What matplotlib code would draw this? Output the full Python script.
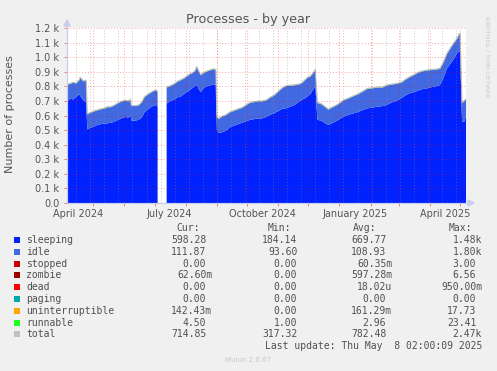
import matplotlib
matplotlib.use("Agg")
import matplotlib.pyplot as plt
from matplotlib.patches import Polygon, Rectangle
from matplotlib.lines import Line2D
import numpy as np
import pandas as pd
from datetime import datetime

W, H = 497, 371

# sample dates (None in the value lists = no data)
dates = [
    "2024-04-05", "2024-04-08", "2024-04-11", "2024-04-14", "2024-04-17", "2024-04-18", "2024-04-21", "2024-04-24",
    "2024-04-25", "2024-04-28", "2024-05-02", "2024-05-05", "2024-05-08", "2024-05-12", "2024-05-15", "2024-05-18",
    "2024-05-21", "2024-05-24", "2024-05-27", "2024-05-30", "2024-06-02", "2024-06-05", "2024-06-07", "2024-06-08",
    "2024-06-12", "2024-06-15", "2024-06-18", "2024-06-21", "2024-06-24", "2024-06-27", "2024-06-30", "2024-07-03",
    "2024-07-04",
    "2024-07-08",
    "2024-07-13", "2024-07-17", "2024-07-21", "2024-07-24", "2024-07-27", "2024-07-30", "2024-08-02", "2024-08-05",
    "2024-08-08", "2024-08-10", "2024-08-12", "2024-08-14", "2024-08-16", "2024-08-19", "2024-08-22", "2024-08-25",
    "2024-08-28", "2024-08-31",
    "2024-09-01", "2024-09-03", "2024-09-06", "2024-09-10", "2024-09-14", "2024-09-18", "2024-09-22", "2024-09-26",
    "2024-09-30", "2024-10-04", "2024-10-08", "2024-10-12", "2024-10-16", "2024-10-20", "2024-10-24", "2024-10-28",
    "2024-11-01", "2024-11-05", "2024-11-09", "2024-11-13", "2024-11-17", "2024-11-21", "2024-11-24", "2024-11-27",
    "2024-11-30", "2024-12-03", "2024-12-06", "2024-12-08",
    "2024-12-10", "2024-12-14", "2024-12-17", "2024-12-21", "2024-12-24", "2024-12-27", "2024-12-31",
    "2025-01-05", "2025-01-10", "2025-01-15", "2025-01-20", "2025-01-25", "2025-01-29", "2025-02-03", "2025-02-08",
    "2025-02-13", "2025-02-17", "2025-02-22", "2025-02-27", "2025-03-04", "2025-03-08", "2025-03-12", "2025-03-16",
    "2025-03-20", "2025-03-24", "2025-03-29", "2025-04-03", "2025-04-07", "2025-04-11", "2025-04-14", "2025-04-18",
    "2025-04-22", "2025-04-25", "2025-04-28", "2025-04-30", "2025-05-01", "2025-05-03", "2025-05-05", "2025-05-07",
]

sleeping = [
    699, 715, 710, 728, 745, 735, 705, 690,
    505, 515, 525, 535, 540, 545, 546, 550,
    555, 565, 575, 583, 590, 585, 600, 565,
    565, 570, 585, 622, 640, 655, 668, 672,
    660,
    None,
    682, 700, 710, 725, 730, 745, 760, 775,
    790, 800, 815, 780, 760, 790, 800, 805,
    815, 810,
    500, 480, 485, 495, 520, 530, 540, 550,
    560, 570, 575, 580, 580, 590, 605, 615,
    630, 645, 650, 660, 670, 690, 706, 715,
    730, 745, 780, 805,
    570, 565, 550, 535, 545, 555, 570,
    592, 605, 615, 625, 640, 649, 655, 660,
    665, 672, 690, 700, 720, 740, 752, 760,
    770, 780, 786, 795, 800, 809, 850, 923,
    960, 990, 1026, 1037, 1040, 560, 555, 598,
]

idle = [
    112, 102, 115, 91, 97, 124, 130, 147,
    104, 102, 104, 100, 102, 102, 111, 107,
    110, 112, 114, 114, 112, 112, 109, 100,
    100, 99, 102, 104, 102, 100, 99, 100,
    100,
    None,
    110, 102, 107, 107, 112, 107, 107, 107,
    102, 102, 117, 122, 117, 102, 102, 104,
    102, 104,
    89, 97, 107, 107, 102, 102, 102, 102,
    109, 117, 117, 117, 117, 113, 117, 122,
    132, 142, 152, 145, 137, 122, 112, 122,
    127, 122, 112, 107,
    117, 112, 112, 105, 107, 107, 107,
    111, 112, 117, 122, 127, 134, 132, 132,
    127, 134, 122, 117, 107, 107, 111, 117,
    122, 122, 123, 117, 115, 111, 107, 100,
    107, 107, 100, 120, 121, 127, 142, 112,
]

runnable = [
    3, 3, 3, 4, 3, 3, 3, 3,
    3, 3, 3, 3, 3, 3, 3, 3,
    3, 3, 3, 3, 3, 3, 3, 3,
    3, 3, 3, 3, 3, 3, 3, 3,
    3,
    None,
    3, 3, 3, 3, 3, 3, 3, 3,
    3, 3, 4, 3, 3, 3, 3, 3,
    3, 3,
    3, 3, 3, 3, 3, 3, 3, 3,
    3, 3, 3, 3, 3, 3, 3, 3,
    3, 3, 3, 3, 3, 3, 3, 3,
    3, 3, 3, 3,
    3, 3, 3, 3, 3, 3, 3,
    3, 3, 3, 3, 3, 3, 3, 3,
    3, 3, 3, 3, 3, 3, 3, 3,
    3, 3, 3, 3, 3, 3, 3, 3,
    3, 3, 3, 3, 3, 3, 3, 4.5,
]

ytick_values = [0, 100, 200, 300, 400, 500, 600, 700, 800, 900, 1000, 1100, 1200]
ytick_labels = ["0.0", "0.1 k", "0.2 k", "0.3 k", "0.4 k", "0.5 k", "0.6 k", "0.7 k",
                "0.8 k", "0.9 k", "1.0 k", "1.1 k", "1.2 k"]
xlabel_dates = ["2024-04-16", "2024-07-16", "2024-10-16", "2025-01-16", "2025-04-16"]
xlabel_text = ["April 2024", "July 2024", "October 2024", "January 2025", "April 2025"]

legend_names = ["sleeping", "idle", "stopped", "zombie", "dead", "paging",
                "uninterruptible", "runnable", "total"]
legend_colors = ["#0022ff", "#4169e1", "#cc0000", "#990000", "#ff0000", "#00aaaa",
                 "#ffa500", "#22ff22", "#c0c0c0"]
cur_vals = ["598.28", "111.87", "0.00", "62.60m", "0.00", "0.00", "142.43m", "4.50", "714.85"]
min_vals = ["184.14", "93.60", "0.00", "0.00", "0.00", "0.00", "0.00", "1.00", "317.32"]
avg_vals = ["669.77", "108.93", "60.35m", "597.28m", "18.02u", "0.00", "161.29m", "2.96", "782.48"]
max_vals = ["1.48k", "1.80k", "3.00", "6.56", "950.00m", "0.00", "17.73", "23.41", "2.47k"]


def px(x, y):
    return x / W, 1 - y / H


def arr(v):
    return np.array([np.nan if a is None else a for a in v], dtype=float)


t = pd.to_datetime(dates)
s = arr(sleeping)
i = arr(idle)
r = arr(runnable)

fig = plt.figure(figsize=(W / 100, H / 100), dpi=100, facecolor="#f0f0f0")
ax = fig.add_axes([67 / W, 1 - 203 / H, (466 - 67) / W, (203 - 28) / H])
ax.set_facecolor("white")

x0 = datetime(2024, 4, 4, 20)
x1 = datetime(2025, 5, 6, 22)
ax.set_xlim(x0, x1)
ax.set_ylim(0, 1200)

# stacked areas
ax.fill_between(t, 0, s, color="#0022ff", lw=0, zorder=2)
ax.fill_between(t, s, s + i, color="#4169e1", lw=0, zorder=2)
ax.fill_between(t, s + i, s + i + r, color="#22ff22", lw=0, zorder=2)
ax.plot(t, s + i + r, color="#c0c0c0", lw=0.8, zorder=3)

# grid, drawn over the data like rrdtool does
major_col = (1, 0, 0, 0.35)
minor_col = (0.55, 0.55, 0.55, 0.45)
for d in pd.date_range("2024-04-14", "2025-05-06", freq="14D"):
    ax.axvline(d, color=minor_col, lw=0.7, ls=(0, (1, 2)), zorder=4)
month_starts = pd.date_range("2024-05-01", "2025-05-01", freq="MS")
for d in month_starts:
    ax.axvline(d, color=major_col, lw=0.7, ls=(0, (1, 2)), zorder=5)
for v in ytick_values[1:]:
    ax.axhline(v, color=major_col, lw=0.7, ls=(0, (1, 2)), zorder=5)

ax.set_yticks(ytick_values)
ax.set_yticklabels(ytick_labels)
ax.set_xticks(month_starts)
ax.set_xticklabels([])
ax.set_xticks(pd.to_datetime(xlabel_dates), minor=True)
ax.set_xticklabels(xlabel_text, minor=True)
ax.tick_params(axis="both", which="major", length=2, width=0.7, color=(1, 0, 0, 0.5),
               labelsize=7, labelcolor="#555555")
ax.tick_params(axis="y", pad=3.5)
ax.tick_params(axis="x", which="minor", length=0, pad=4, labelsize=7, labelcolor="#555555")

for side in ["top", "right"]:
    ax.spines[side].set_visible(False)
axis_col = "#c8ccf0"
ax.spines["left"].set_color(axis_col)
ax.spines["bottom"].set_color(axis_col)
ax.spines["left"].set_linewidth(0.8)
ax.spines["bottom"].set_linewidth(0.8)

# axis arrows
fig.add_artist(Line2D(*zip(px(67, 203), px(67, 24)), color=axis_col, lw=0.8))
fig.add_artist(Line2D(*zip(px(67, 203), px(470, 203)), color=axis_col, lw=0.8))
fig.add_artist(Polygon([px(64, 26), px(70, 26), px(67, 20)], closed=True,
                       transform=fig.transFigure, color=axis_col))
fig.add_artist(Polygon([px(468, 200), px(468, 206), px(474, 203)], closed=True,
                       transform=fig.transFigure, color=axis_col))

fig.text(*px(248, 19), "Processes - by year", ha="center", va="center",
         fontsize=9.2, color="#555555")
fig.text(*px(10, 114), "Number of processes", ha="center", va="center",
         rotation=90, fontsize=8, color="#555555")
fig.text(*px(487, 57), "RRDTOOL / TOBI OETIKER", ha="center", va="center",
         rotation=-90, fontsize=4.6, color="#c8c8c8")
fig.text(*px(248, 360), "Munin 2.0.67", ha="center", va="center",
         fontsize=5, color="#c8c8c8")

# legend table, monospace so columns line up by character width
mono = dict(family="DejaVu Sans Mono", fontsize=7, color="#505050", va="center")
cw = 0.602 * 7 * 100 / 72
headers = [("Cur:", 200), ("Min:", 291), ("Avg:", 376), ("Max:", 472)]
for h, xr in headers:
    fig.text(*px(xr - len(h) * cw, 228), h, ha="left", **mono)

col_ends = [212, 303, 392, 482]
row_y0, row_dy = 240, 11.8
for k, name in enumerate(legend_names):
    y = row_y0 + k * row_dy
    fig.add_artist(Rectangle(px(14, y + 3), 6 / W, 6 / H, transform=fig.transFigure,
                             facecolor=legend_colors[k], edgecolor="none"))
    fig.text(*px(26, y), name, ha="left", **mono)
    for vals, xe in zip([cur_vals, min_vals, avg_vals, max_vals], col_ends):
        v = vals[k]
        n = len(v) if v[-1].isalpha() else len(v) + 1
        fig.text(*px(xe - n * cw, y), v, ha="left", **mono)

last = "Last update: Thu May  8 02:00:09 2025"
fig.text(*px(482 - len(last) * cw, row_y0 + 9 * row_dy), last, ha="left", **mono)

fig.savefig("out.png", dpi=100, facecolor=fig.get_facecolor())
